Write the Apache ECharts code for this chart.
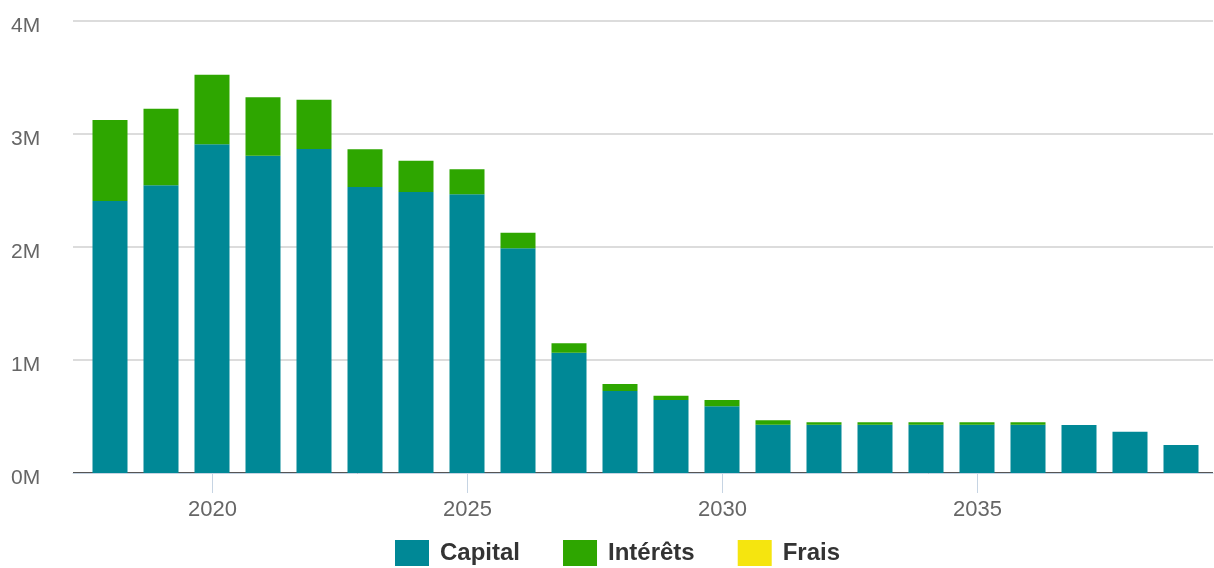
<!DOCTYPE html>
<html>
<head>
<meta charset="utf-8">
<script src="https://cdn.jsdelivr.net/npm/echarts@6/dist/echarts.min.js"></script>
<style>
html,body{margin:0;padding:0;background:#fff;}
#chart{width:1214px;height:568px;}
</style>
</head>
<body>
<div id="chart"></div>
<script>
const years = ['2018','2019','2020','2021','2022','2023','2024','2025','2026','2027','2028','2029','2030','2031','2032','2033','2034','2035','2036','2037','2038','2039'];
const capital = [2407000,2546000,2909000,2808000,2867000,2532000,2487000,2466000,1988000,1065000,726000,646000,590000,428000,428000,428000,428000,428000,428000,425000,365000,248000];
const interets = [717000,678000,616000,517000,437000,333000,277000,222000,139000,83000,62000,38000,55000,38000,22000,22000,22000,22000,22000,0,0,0];
const frais = [0,0,0,0,0,0,0,0,0,0,0,0,0,0,0,0,0,0,0,0,0,0];
const xTickYears = [2020,2025,2030,2035];
const seriesNames = ['Capital','Intérêts','Frais'];

const font = "'Liberation Sans', Arial, sans-serif";
const chart = echarts.init(document.getElementById('chart'), null, {renderer:'canvas'});
chart.setOption({
  animation:false,
  color:['#008896','#2ea600','#f5e50f'],
  grid:[
    {left:73,right:1,top:21,bottom:95,containLabel:false},
    {left:84.5,right:7.5,top:21,bottom:95,containLabel:false}
  ],
  legend:{
    data:seriesNames,left:395,top:540,padding:0,itemWidth:34,itemHeight:26,itemGap:43,icon:'rect',
    textStyle:{fontFamily:font,fontSize:24,fontWeight:'bold',color:'#333',padding:[0,0,0,6]}
  },
  xAxis:[
    {
      gridIndex:0,type:'value',min:2017.265,max:2039.62,offset:2,
      axisLine:{show:true,lineStyle:{color:'#c6d4e3',width:1}},
      axisTick:{show:true,customValues:xTickYears,length:20,lineStyle:{color:'#c6d4e3',width:1}},
      axisLabel:{customValues:xTickYears,formatter:v=>String(v),fontFamily:font,fontSize:22,color:'#666',margin:24},
      splitLine:{show:false}
    },
    {
      gridIndex:1,type:'category',data:years,boundaryGap:true,show:false
    }
  ],
  yAxis:[
    {
      gridIndex:0,type:'value',min:0,max:4000000,interval:1000000,
      axisLine:{show:false},axisTick:{show:false},
      axisLabel:{formatter:v=>'\n'+(v/1000000)+'M',lineHeight:11,fontFamily:font,fontSize:21,color:'#666',align:'left',margin:62},
      splitLine:{show:true,lineStyle:{color:['#555','#dcdcdc','#dcdcdc','#dcdcdc','#dcdcdc'],width:2}}
    },
    {
      gridIndex:1,type:'value',min:0,max:4000000,interval:1000000,show:false,splitLine:{show:false}
    }
  ],
  series:[
    {name:'Capital',type:'bar',stack:'t',xAxisIndex:1,yAxisIndex:1,barWidth:35,data:capital},
    {name:'Intérêts',type:'bar',stack:'t',xAxisIndex:1,yAxisIndex:1,barWidth:35,data:interets},
    {name:'Frais',type:'bar',stack:'t',xAxisIndex:1,yAxisIndex:1,barWidth:35,data:frais}
  ]
});
</script>
</body>
</html>
